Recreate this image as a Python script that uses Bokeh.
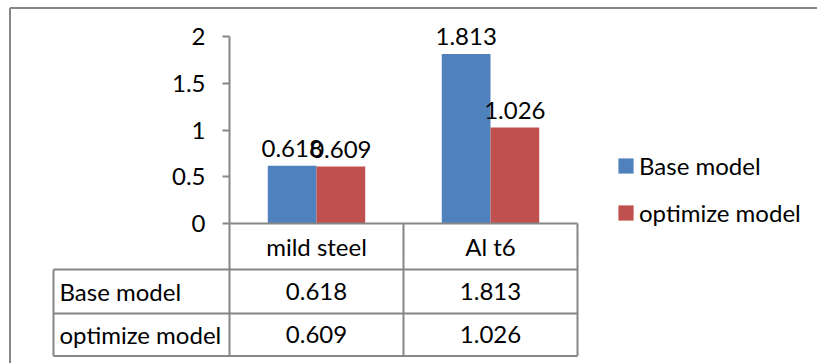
from bokeh.plotting import figure
from bokeh.models import (LinearAxis, FixedTicker, Range1d, ColumnDataSource,
                          Legend, LegendItem)
from bokeh.transform import dodge
from bokeh.core.properties import value
from bokeh.embed import file_html
from bokeh.resources import INLINE

# ---------------- data ----------------
categories = ["mild steel", "Al t6"]
series_names = ["Base model", "optimize model"]
base_model = [0.618, 1.813]
optimize_model = [0.609, 1.026]
y_ticks = [0, 0.5, 1, 1.5, 2]
y_tick_labels = ["0", "0.5", "1", "1.5", "2"]
series_colors = ["#4F81BD", "#C0504D"]

# ---------------- geometry / style ----------------
W, H = 817, 363
FONT = "Lato"
FS = "24px"
GREY = "#868686"
PAGE = 0.0          # figure offset on the page
CAT_PX = 174.0      # width of one category in px
CAT0_PAGE = 316.0   # page x of centre of first category
UNIT_PX = 93.5      # px per y unit
ZERO_PAGE = 223.0   # page y of value 0


def dx(px):
    return (px - CAT0_PAGE) / CAT_PX


def dy(py):
    return (ZERO_PAGE - py) / UNIT_PX


p = figure(width=W, height=H, output_backend="svg", toolbar_location=None,
           x_range=Range1d(dx(PAGE), dx(PAGE + W)),
           y_range=Range1d(dy(PAGE + H), dy(PAGE)),
           x_axis_type=None, y_axis_type=None, min_border=0,
           outline_line_color=None, background_fill_color="white",
           border_fill_color="white")

xs = list(range(len(categories)))
bar_w = 0.28
src = ColumnDataSource(dict(
    x=xs, cat=categories, base=base_model, opt=optimize_model,
    base_lbl=[f"{v:.3f}" for v in base_model],
    opt_lbl=[f"{v:.3f}" for v in optimize_model],
))

r_base = p.vbar(x=dodge("x", -bar_w / 2, range=p.x_range), top="base", width=bar_w,
                source=src, fill_color=series_colors[0], line_color=None)
r_opt = p.vbar(x=dodge("x", bar_w / 2, range=p.x_range), top="opt", width=bar_w,
               source=src, fill_color=series_colors[1], line_color=None)

# data labels
for col, lbl, off in (("base", "base_lbl", -bar_w / 2), ("opt", "opt_lbl", bar_w / 2)):
    p.text(x=dodge("x", off, range=p.x_range), y=col, text=lbl, source=src,
           text_align="center", text_baseline="alphabetic", y_offset=-17,
           text_font=value(FONT), text_font_size=FS, text_color="black")

# y axis (real axis, fixed at left edge of first category)
yaxis = LinearAxis(fixed_location=-0.5, ticker=FixedTicker(ticks=y_ticks),
                   bounds=(0, 2),
                   major_label_overrides={t: l for t, l in zip(y_ticks, y_tick_labels)},
                   axis_line_color=GREY, axis_line_width=2,
                   major_tick_line_color=GREY, major_tick_line_width=2,
                   major_tick_out=7, major_tick_in=0,
                   minor_tick_out=0, minor_tick_in=0,
                   major_label_standoff=17,
                   major_label_text_font=FONT, major_label_text_font_size=FS,
                   major_label_text_color="black")
p.add_layout(yaxis, "left")

# ---------------- data table ----------------
n = len(categories)
left_cat = -0.5
right_cat = n - 0.5
row_label_left = dx(53)
header_top = 0.0
header_bot = dy(269)
row1_bot = dy(313)
row2_bot = dy(355.5)

seg_x0 = [left_cat, row_label_left, row_label_left, row_label_left, row_label_left]
seg_y0 = [header_top, header_bot, row1_bot, row2_bot, header_bot]
seg_x1 = [right_cat, right_cat, right_cat, right_cat, row_label_left]
seg_y1 = [header_top, header_bot, row1_bot, row2_bot, row2_bot]
for i in range(n + 1):
    seg_x0.append(left_cat + i)
    seg_y0.append(header_top)
    seg_x1.append(left_cat + i)
    seg_y1.append(row2_bot)
p.segment(x0=seg_x0, y0=seg_y0, x1=seg_x1, y1=seg_y1, line_color=GREY, line_width=2)

hdr_y = (header_top + header_bot) / 2
r1_y = (header_bot + row1_bot) / 2
r2_y = (row1_bot + row2_bot) / 2
tbl = ColumnDataSource(dict(
    x=xs + xs + xs,
    y=[hdr_y] * n + [r1_y] * n + [r2_y] * n,
    t=categories + [f"{v:.3f}" for v in base_model] + [f"{v:.3f}" for v in optimize_model],
))
p.text(x="x", y="y", text="t", source=tbl, text_align="center", text_baseline="middle",
       text_font=value(FONT), text_font_size=FS, text_color="black")
p.text(x=[dx(59)] * 2, y=[r1_y, r2_y], text=series_names, text_align="left",
       text_baseline="middle", text_font=value(FONT), text_font_size=FS,
       text_color="black")

# outer chart border (left and top visible)
p.segment(x0=[dx(9.5), dx(9.5)], y0=[dy(7.5), dy(7.5)],
          x1=[dx(9.5), dx(PAGE + W)], y1=[dy(PAGE + H), dy(7.5)],
          line_color=GREY, line_width=2)

# legend
legend = Legend(items=[LegendItem(label=series_names[0], renderers=[r_base]),
                       LegendItem(label=series_names[1], renderers=[r_opt])],
                location=(616, 136), orientation="vertical",
                glyph_width=19, glyph_height=19, label_standoff=4, spacing=18,
                padding=0, margin=0, border_line_color=None,
                background_fill_alpha=0, label_text_font=FONT,
                label_text_font_size=FS, label_text_color="black")
p.add_layout(legend)

open("out.html", "w").write(file_html(p, INLINE))
